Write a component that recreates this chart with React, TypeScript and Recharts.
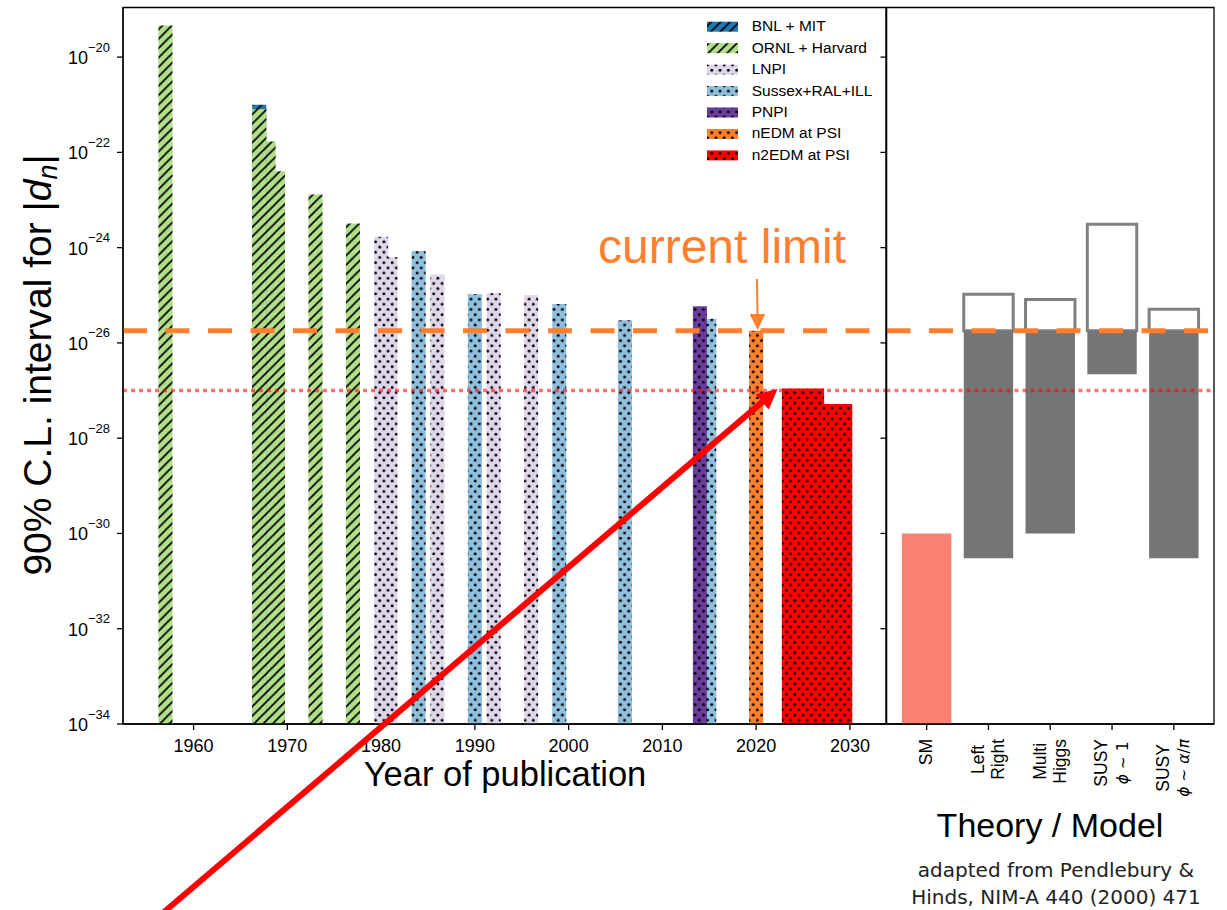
import React from 'react';
import { ComposedChart, XAxis, YAxis, ReferenceArea, ReferenceLine } from 'recharts';

// ---------------- data ----------------
const experimentNames = ['BNL + MIT', 'ORNL + Harvard', 'LNPI', 'Sussex+RAL+ILL', 'PNPI', 'nEDM at PSI', 'n2EDM at PSI'];
const experimentColors = ['#1f78b4', '#b2df8a', '#e0d6e9', '#8fbfdd', '#6a3d9a', '#fe7f2d', '#ff0000'];
const experimentHatch = ['lines', 'lines', 'dots', 'dots', 'dots', 'dots', 'dots'];

// published limits (earlier entries are drawn on top of later ones)
const measurementYears = [1957, 1967, 1967, 1968, 1969, 1973, 1977, 1980, 1981, 1984, 1986, 1990, 1992, 1996, 1999, 2006, 2014, 2015, 2020];
const measurementExperiment = [1, 1, 0, 1, 1, 1, 1, 2, 2, 3, 2, 3, 2, 2, 3, 3, 4, 3, 5];
const measurementLimits = [4.6e-20, 8e-22, 1e-21, 1.7e-22, 4e-23, 1.3e-23, 3.2e-24, 1.7e-24, 6.3e-25, 8.5e-25, 2.7e-25, 1.05e-25, 1.1e-25, 1.0e-25, 6.6e-26, 3.0e-26, 5.9e-26, 3.2e-26, 1.8e-26];

// projected n2EDM sensitivity
const projectionFrom = [2022.75, 2022.75];
const projectionTo = [2030.25, 2027.25];
const projectionLimits = [5.2e-28, 1.1e-27];
const projectionExperiment = 6;

const currentLimit = 1.8e-26;
const n2edmReach = 1e-27;

const yearTicks = [1960, 1970, 1980, 1990, 2000, 2010, 2020, 2030];
const edmTicks = [1e-34, 1e-32, 1e-30, 1e-28, 1e-26, 1e-24, 1e-22, 1e-20];

const theoryModels = ['SM', 'Left\nRight', 'Multi\nHiggs', 'SUSY\nϕ ∼ 1', 'SUSY\nϕ ∼ α/π'];
const theoryLow = [1e-34, 3e-31, 1e-30, 2.2e-27, 3e-31];
const theoryHigh = [1e-30, 1.05e-25, 8.2e-26, 3.1e-24, 5.1e-26];
const theoryColors = ['#fa8072', '#757575', '#757575', '#757575', '#757575'];
const theoryTicks = [0, 1, 2, 3, 4];

// ---------------- layout ----------------
const W = 1227;
const H = 910;
const PLOT_TOP = 7.5;
const PLOT_BOTTOM = 724;
const LEFT_X0 = 123;
const LEFT_X1 = 886;
const RIGHT_X0 = 886.5;
const RIGHT_X1 = 1214;
const Y_AXIS_W = 60;
const X_AXIS_H = 30;
const YEAR_DOMAIN: [number, number] = [1952.47, 2033.85];
const EDM_DOMAIN: [number, number] = [1e-34, 1.1e-19];
const MODEL_DOMAIN: [number, number] = [-0.65, 4.65];
const BAR_HALF_YEARS = 0.75;
const MODEL_HALF = 0.4;

const FONT = "'Liberation Sans', Arial, Helvetica, sans-serif";
const MATH_FONT = "'DejaVu Sans', sans-serif";
const ORANGE = '#fe7f2d';
const AXIS = { stroke: '#000', strokeWidth: 1.3 };

const measurementRows = measurementYears.map((year, i) => ({ year, limit: measurementLimits[i] }));
const theoryRows = theoryModels.map((m, i) => ({ idx: i, low: theoryLow[i], high: theoryHigh[i] }));

let ctx: CanvasRenderingContext2D | null = null;
function measureText(text: string, font: string): number {
  try {
    if (!ctx) ctx = document.createElement('canvas').getContext('2d');
    if (ctx) {
      ctx.font = font;
      return ctx.measureText(text).width;
    }
  } catch (e) {
    /* ignore */
  }
  return text.length * 9;
}

const isMath = (s: string) => /[ϕαπ]/.test(s);

function renderMath(s: string) {
  if (!isMath(s)) return s;
  return s.split('').map((ch, i) =>
    /[ϕαπ]/.test(ch) ? (
      <tspan key={i} fontStyle="italic">{ch}</tspan>
    ) : (
      <tspan key={i}>{ch}</tspan>
    )
  );
}

const PowTick = (props: any) => {
  const { x, y, payload } = props;
  const e = Math.round(Math.log10(payload.value));
  return (
    <text x={x} y={y + 7} textAnchor="end" fontFamily={FONT} fontSize={18} fill="#000">
      <tspan>10</tspan>
      <tspan dy={-12.5} fontSize={13}>{`−${Math.abs(e)}`}</tspan>
    </text>
  );
};

const YearTick = (props: any) => {
  const { x, y, payload } = props;
  return (
    <text x={x} y={y + 19.5} textAnchor="middle" fontFamily={FONT} fontSize={18} fill="#000">
      {payload.value}
    </text>
  );
};

const EmptyTick = () => <g />;

const ModelTick = (props: any) => {
  const { x, y, payload } = props;
  const lines = theoryModels[payload.value].split('\n');
  const sizeOf = (l: string) => (isMath(l) ? 15.5 : 17.5);
  const lens = lines.map((l) => measureText(l, `${sizeOf(l)}px ${isMath(l) ? MATH_FONT : FONT}`));
  const maxLen = Math.max(...lens);
  const cy = y + 7 + maxLen / 2;
  const gap = 20.3;
  return (
    <g>
      {lines.map((l, i) => {
        const bx = x + (i - (lines.length - 1) / 2) * gap + 5.5;
        return (
          <text
            key={i}
            x={bx}
            y={cy}
            transform={`rotate(-90 ${bx} ${cy})`}
            textAnchor="middle"
            fontSize={sizeOf(l)}
            fontFamily={isMath(l) ? MATH_FONT : FONT}
            fill="#000"
          >
            {renderMath(l)}
          </text>
        );
      })}
    </g>
  );
};

function Patterns() {
  return (
    <svg width={0} height={0} style={{ position: 'absolute', left: 0, top: 0 }}>
      <defs>
        {experimentColors.map((c, i) =>
          experimentHatch[i] === 'lines' ? (
            <pattern key={i} id={`fill-${i}`} patternUnits="userSpaceOnUse" width={9.4} height={9.4}>
              <rect width={9.4} height={9.4} fill={c} />
              <path d="M-1,1 L1,-1 M0,9.4 L9.4,0 M8.4,10.4 L10.4,8.4" stroke="#000" strokeWidth={1.8} />
            </pattern>
          ) : (
            <pattern key={i} id={`fill-${i}`} patternUnits="userSpaceOnUse" width={8.3} height={10.4}>
              <rect width={8.3} height={10.4} fill={c} />
              <circle cx={2.1} cy={2.6} r={1.45} fill="#000" />
              <circle cx={6.25} cy={7.8} r={1.45} fill="#000" />
            </pattern>
          )
        )}
      </defs>
    </svg>
  );
}

function LeftPanel() {
  const order = measurementYears.map((_, i) => i).reverse();
  return (
    <ComposedChart
      width={W}
      height={H}
      data={measurementRows}
      margin={{ top: PLOT_TOP, left: LEFT_X0 - Y_AXIS_W, right: W - LEFT_X1, bottom: H - PLOT_BOTTOM - X_AXIS_H }}
    >
      <XAxis
        xAxisId="b"
        type="number"
        dataKey="year"
        domain={YEAR_DOMAIN}
        allowDataOverflow
        ticks={yearTicks}
        interval={0}
        height={X_AXIS_H}
        tickSize={6}
        tickMargin={2}
        axisLine={AXIS}
        tickLine={AXIS}
        tick={(p: any) => <YearTick {...p} />}
      />
      <YAxis
        yAxisId="l"
        type="number"
        scale="log"
        dataKey="limit"
        domain={EDM_DOMAIN}
        allowDataOverflow
        ticks={edmTicks}
        interval={0}
        width={Y_AXIS_W}
        tickSize={6}
        tickMargin={7}
        axisLine={AXIS}
        tickLine={AXIS}
        tick={(p: any) => <PowTick {...p} />}
      />
      {/* panel frame (top spine) */}
      <ReferenceArea
        xAxisId="b"
        yAxisId="l"
        x1={YEAR_DOMAIN[0]}
        x2={YEAR_DOMAIN[1]}
        y1={EDM_DOMAIN[0]}
        y2={EDM_DOMAIN[1]}
        fill="none"
        fillOpacity={0}
        stroke="#000"
        strokeWidth={1.3}
        ifOverflow="visible"
      />
      {projectionLimits.map((v, k) => (
        <ReferenceArea
          key={`p${k}`}
          xAxisId="b"
          yAxisId="l"
          x1={projectionFrom[k]}
          x2={projectionTo[k]}
          y1={EDM_DOMAIN[0]}
          y2={v}
          fill={`url(#fill-${projectionExperiment})`}
          fillOpacity={1}
          stroke="none"
          ifOverflow="visible"
        />
      ))}
      {order.map((i) => (
        <ReferenceArea
          key={`m${i}`}
          xAxisId="b"
          yAxisId="l"
          x1={measurementYears[i] - BAR_HALF_YEARS}
          x2={measurementYears[i] + BAR_HALF_YEARS}
          y1={EDM_DOMAIN[0]}
          y2={measurementLimits[i]}
          fill={`url(#fill-${measurementExperiment[i]})`}
          fillOpacity={1}
          stroke="none"
          ifOverflow="visible"
        />
      ))}
      <ReferenceLine
        xAxisId="b"
        yAxisId="l"
        y={n2edmReach}
        stroke="#ff0000"
        strokeOpacity={0.55}
        strokeWidth={3.5}
        strokeDasharray="4 4"
        ifOverflow="visible"
      />
      <ReferenceLine
        xAxisId="b"
        yAxisId="l"
        y={currentLimit}
        stroke={ORANGE}
        strokeWidth={5}
        strokeDasharray="24 18.5"
        ifOverflow="visible"
      />
    </ComposedChart>
  );
}

function RightPanel() {
  return (
    <ComposedChart
      width={W}
      height={H}
      data={theoryRows}
      margin={{ top: PLOT_TOP, left: RIGHT_X0 - 1, right: W - RIGHT_X1, bottom: H - PLOT_BOTTOM - X_AXIS_H }}
    >
      <XAxis
        xAxisId="b"
        type="number"
        dataKey="idx"
        domain={MODEL_DOMAIN}
        allowDataOverflow
        ticks={theoryTicks}
        interval={0}
        height={X_AXIS_H}
        tickSize={6}
        tickMargin={2}
        axisLine={AXIS}
        tickLine={AXIS}
        tick={(p: any) => <ModelTick {...p} />}
      />
      <YAxis
        yAxisId="l"
        type="number"
        scale="log"
        dataKey="high"
        domain={EDM_DOMAIN}
        allowDataOverflow
        ticks={edmTicks}
        interval={0}
        width={1}
        tickSize={6}
        tickMargin={0}
        axisLine={AXIS}
        tickLine={AXIS}
        tick={EmptyTick}
      />
      {/* panel frame */}
      <ReferenceArea
        xAxisId="b"
        yAxisId="l"
        x1={MODEL_DOMAIN[0]}
        x2={MODEL_DOMAIN[1]}
        y1={EDM_DOMAIN[0]}
        y2={EDM_DOMAIN[1]}
        fill="none"
        fillOpacity={0}
        stroke="#000"
        strokeWidth={1.3}
        ifOverflow="visible"
      />
      {theoryModels.map((m, i) =>
        theoryHigh[i] > currentLimit ? (
          <ReferenceArea
            key={`o${i}`}
            xAxisId="b"
            yAxisId="l"
            x1={i - MODEL_HALF}
            x2={i + MODEL_HALF}
            y1={currentLimit}
            y2={theoryHigh[i]}
            fill="none"
            fillOpacity={0}
            stroke="#808080"
            strokeWidth={3}
            ifOverflow="visible"
          />
        ) : null
      )}
      {theoryModels.map((m, i) => (
        <ReferenceArea
          key={`f${i}`}
          xAxisId="b"
          yAxisId="l"
          x1={i - MODEL_HALF}
          x2={i + MODEL_HALF}
          y1={theoryLow[i]}
          y2={Math.min(theoryHigh[i], currentLimit)}
          fill={theoryColors[i]}
          fillOpacity={1}
          stroke="none"
          ifOverflow="visible"
        />
      ))}
      <ReferenceLine
        xAxisId="b"
        yAxisId="l"
        y={n2edmReach}
        stroke="#ff0000"
        strokeOpacity={0.55}
        strokeWidth={3.5}
        strokeDasharray="4 4"
        ifOverflow="visible"
      />
      <ReferenceLine
        xAxisId="b"
        yAxisId="l"
        y={currentLimit}
        stroke={ORANGE}
        strokeWidth={5}
        strokeDasharray="24 18.5"
        ifOverflow="visible"
      />
    </ComposedChart>
  );
}

function arrowHead(x0: number, y0: number, x1: number, y1: number, len: number, half: number) {
  const dx = x1 - x0;
  const dy = y1 - y0;
  const L = Math.sqrt(dx * dx + dy * dy);
  const ux = dx / L;
  const uy = dy / L;
  const bx = x1 - ux * len;
  const by = y1 - uy * len;
  const nx = -uy;
  const ny = ux;
  return `${x1},${y1} ${bx + nx * half},${by + ny * half} ${bx - nx * half},${by - ny * half}`;
}

function Overlay() {
  const legendX = 707;
  const legendY0 = 21.7;
  const legendStep = 21.45;
  const redStart = [164, 912];
  const redTip = [777.5, 389];
  const redDx = redTip[0] - redStart[0];
  const redDy = redTip[1] - redStart[1];
  const redL = Math.sqrt(redDx * redDx + redDy * redDy);
  const redEnd = [redTip[0] - (redDx / redL) * 15, redTip[1] - (redDy / redL) * 15];
  return (
    <svg width={W} height={H} style={{ position: 'absolute', left: 0, top: 0, pointerEvents: 'none' }}>
      {/* legend */}
      {experimentNames.map((name, i) => (
        <g key={name}>
          <rect x={legendX} y={legendY0 + i * legendStep} width={31} height={10} fill={`url(#fill-${i})`} />
          <text x={751.7} y={legendY0 + 9.5 + i * legendStep} fontFamily={FONT} fontSize={15.5} fill="#000">
            {name}
          </text>
        </g>
      ))}
      {/* axis titles */}
      <text
        x={51}
        y={365}
        transform="rotate(-90 51 365)"
        textAnchor="middle"
        fontFamily={FONT}
        fontSize={39}
        fill="#000"
      >
        <tspan>90% C.L. interval for |</tspan>
        <tspan fontStyle="italic">d</tspan>
        <tspan fontStyle="italic" fontSize={27} dy={6}>n</tspan>
        <tspan dy={-6}>|</tspan>
      </text>
      <text x={505} y={786} textAnchor="middle" fontFamily={FONT} fontSize={34.5} fill="#000">
        Year of publication
      </text>
      <text x={1050} y={836.5} textAnchor="middle" fontFamily={FONT} fontSize={34} fill="#000">
        Theory / Model
      </text>
      <text x={1056} y={876.5} textAnchor="middle" fontFamily={MATH_FONT} fontSize={20} fill="#222">
        adapted from Pendlebury &amp;
      </text>
      <text x={1056} y={904} textAnchor="middle" fontFamily={MATH_FONT} fontSize={20} fill="#222">
        Hinds, NIM-A 440 (2000) 471
      </text>
      {/* current limit annotation */}
      <text x={598} y={262.5} fontFamily={FONT} fontSize={48} fill={ORANGE}>
        current limit
      </text>
      <line x1={757} y1={279} x2={757.5} y2={318} stroke={ORANGE} strokeWidth={2} />
      <polygon points={arrowHead(757, 279, 757.6, 330, 16, 7.8)} fill={ORANGE} />
      {/* red arrow */}
      <line x1={redStart[0]} y1={redStart[1]} x2={redEnd[0]} y2={redEnd[1]} stroke="#ff0000" strokeWidth={6} />
      <polygon points={arrowHead(redStart[0], redStart[1], redTip[0], redTip[1], 20, 10)} fill="#ff0000" />
    </svg>
  );
}

export default function App() {
  return (
    <div style={{ position: 'absolute', left: 0, top: 0, width: W, height: H, background: '#fff', overflow: 'hidden' }}>
      <Patterns />
      <div style={{ position: 'absolute', left: 0, top: 0 }}>
        <LeftPanel />
      </div>
      <div style={{ position: 'absolute', left: 0, top: 0 }}>
        <RightPanel />
      </div>
      <Overlay />
    </div>
  );
}
